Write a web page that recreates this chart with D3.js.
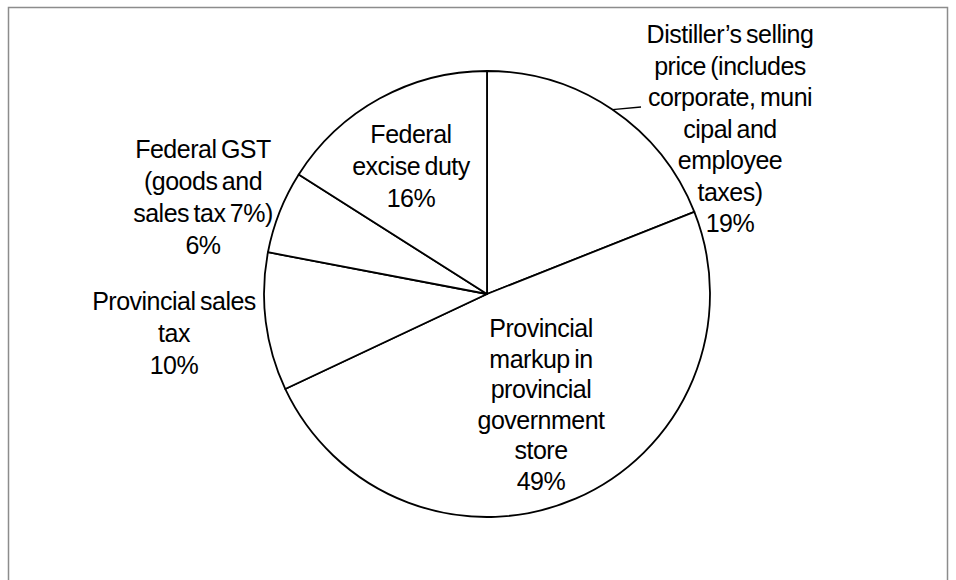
<!DOCTYPE html>
<html>
<head>
<meta charset="utf-8">
<script src="https://cdn.jsdelivr.net/npm/d3@7"></script>
<style>
  html, body { margin: 0; padding: 0; background: #fff; }
  svg { display: block; }
  text { font-family: "Liberation Sans", Arial, sans-serif; fill: #000; }
</style>
</head>
<body>
<svg id="chart" width="956" height="580"></svg>
<script>
// ---- data ----
const categories = [
  "Distiller’s selling price (includes corporate, municipal and employee taxes)",
  "Provincial markup in provincial government store",
  "Provincial sales tax",
  "Federal GST (goods and sales tax 7%)",
  "Federal excise duty"
];
const values = [19, 49, 10, 6, 16];
const labelLines = [
  ["Distiller’s selling", "price (includes", "corporate, muni", "cipal and", "employee", "taxes)"],
  ["Provincial", "markup in", "provincial", "government", "store"],
  ["Provincial sales", "tax"],
  ["Federal GST", "(goods and", "sales tax 7%)"],
  ["Federal", "excise duty"]
];

// ---- layout (positions of labels, not data) ----
const W = 956, H = 580;
const cx = 487, cy = 294, R = 223;
const labelPos = [
  { x: 730, y: 43, dy: 31.5 },
  { x: 541, y: 337, dy: 30.5 },
  { x: 174, y: 310, dy: 32 },
  { x: 203, y: 158, dy: 32 },
  { x: 411, y: 143, dy: 32 }
];
const leaderEnd = { x: 641, y: 107 };

const svg = d3.select("#chart");

// frame
svg.append("rect")
  .attr("x", 8.5).attr("y", 7.5)
  .attr("width", 939).attr("height", 620)
  .attr("fill", "none")
  .attr("stroke", "#8c8c8c")
  .attr("stroke-width", 1.5);

const data = categories.map((c, i) => ({ category: c, value: values[i], lines: labelLines[i] }));

const pie = d3.pie().sort(null).value(d => d.value).startAngle(0).endAngle(2 * Math.PI);
const arcs = pie(data);
const arc = d3.arc().innerRadius(0).outerRadius(R);

const g = svg.append("g").attr("transform", `translate(${cx},${cy})`);
g.selectAll("path.slice")
  .data(arcs)
  .join("path")
  .attr("class", "slice")
  .attr("d", arc)
  .attr("fill", "#fff")
  .attr("stroke", "#000")
  .attr("stroke-width", 1.8)
  .attr("stroke-linejoin", "round");

// leader line for first slice
const a0 = (arcs[0].startAngle + arcs[0].endAngle) / 2;
svg.append("line")
  .attr("x1", cx + R * Math.sin(a0))
  .attr("y1", cy - R * Math.cos(a0))
  .attr("x2", leaderEnd.x)
  .attr("y2", leaderEnd.y)
  .attr("stroke", "#000")
  .attr("stroke-width", 1.3);

// labels
const fmt = d3.format(".0%");
const total = d3.sum(values);
arcs.forEach((a, i) => {
  const p = labelPos[i];
  const lines = a.data.lines.concat([fmt(a.data.value / total)]);
  const t = svg.append("text")
    .attr("text-anchor", "middle")
    .attr("font-size", 25)
    .attr("letter-spacing", "-0.5px")
    .attr("word-spacing", "-2px");
  lines.forEach((ln, j) => {
    t.append("tspan")
      .attr("x", p.x)
      .attr("y", p.y + j * p.dy)
      .text(ln);
  });
});
</script>
</body>
</html>
